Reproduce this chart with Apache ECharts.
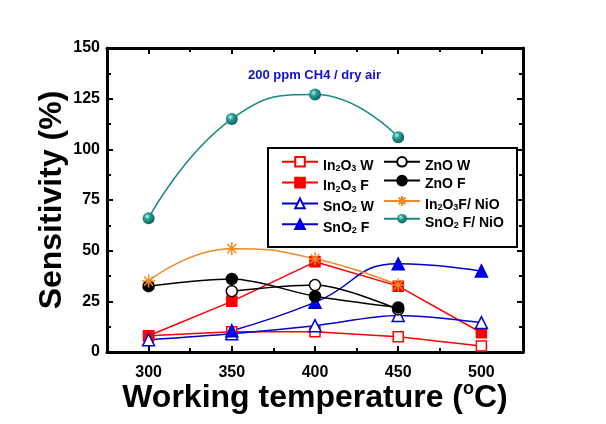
<!DOCTYPE html>
<html><head><meta charset="utf-8">
<script src="https://cdn.jsdelivr.net/npm/echarts@6/dist/echarts.min.js"></script>
<style>html,body{margin:0;padding:0;background:#fff}#c{width:606px;height:424px}</style>
</head><body><div id="c"></div>
<script>
const temps = [300, 350, 400, 450, 500];
const xTicks = [300, 350, 400, 450, 500];
const xMinor = [325, 375, 425, 475];
const in2o3W = [8, 10, 10, 7.5, 3];
const in2o3F = [8, 25, 44.5, 32.5, 9.5];
const sno2W = [6, 9, 13, 18, 14.5];
const sno2F = [null, 10.5, 24.5, 43.5, 40];
const znoW = [null, 30, 33, 21, null];
const znoF = [32.5, 36, 27.5, 22, null];
const in2o3FNiO = [35, 51, 46, 33, null];
const sno2FNiO = [66, 115, 127, 106, null];

const pair = a => temps.map((t, i) => [t, a[i]]);
const FONT = 'Arial, "Liberation Sans", sans-serif';
const chart = echarts.init(document.getElementById('c'));

const starPath = 'path://M0,5L10,5M5,0L5,10M1.5,1.5L8.5,8.5M8.5,1.5L1.5,8.5';
const sphere = {type: 'radial', x: 0.38, y: 0.35, r: 0.7, colorStops: [
  {offset: 0, color: '#c8efe9'}, {offset: 0.35, color: '#2a9f95'}, {offset: 1, color: '#0b5c57'}]};

function mk(name, data, color, symbol, fill, size, smooth) {
  return {
    name, type: 'line', data: pair(data), smooth, symbol, symbolSize: size,
    connectNulls: false,
    lineStyle: {color, width: 1.5},
    itemStyle: {color: fill, borderColor: color, borderWidth: 1.5},
    emphasis: {disabled: true}
  };
}
const series = [
  mk('In2O3 W', in2o3W, '#ff0000', 'rect', '#ffffff', 10, 0),
  mk('In2O3 F', in2o3F, '#ff0000', 'rect', '#ff0000', 10, 0),
  mk('SnO2 W', sno2W, '#0000cc', 'triangle', '#ffffff', 12, 0.3),
  mk('SnO2 F', sno2F, '#0000cc', 'triangle', '#0000ff', 12, 0.5),
  mk('ZnO W', znoW, '#000000', 'circle', '#ffffff', 11, 0.3),
  mk('ZnO F', znoF, '#000000', 'circle', '#000000', 11, 0.3),
  mk('In2O3F/ NiO', in2o3FNiO, '#f08a24', starPath, 'none', 13, 0.5),
  mk('SnO2 F/ NiO', sno2FNiO, '#168a82', 'circle', sphere, 12, 0.5)
];
series[7].itemStyle.borderWidth = 0;

const legendFmt = {
  'In2O3 W': '{n|In}{s|2}{n|O}{s|3}{n| W}',
  'In2O3 F': '{n|In}{s|2}{n|O}{s|3}{n| F}',
  'SnO2 W': '{n|SnO}{s|2}{n| W}',
  'SnO2 F': '{n|SnO}{s|2}{n| F}',
  'ZnO W': '{n|ZnO W}',
  'ZnO F': '{n|ZnO F}',
  'In2O3F/ NiO': '{n|In}{s|2}{n|O}{s|3}{n|F/ NiO}',
  'SnO2 F/ NiO': '{n|SnO}{s|2}{n| F/ NiO}'
};
const legendText = {
  fontFamily: FONT,
  rich: {
    n: {fontSize: 14, fontWeight: 'bold', fontFamily: FONT, color: '#000', verticalAlign: 'bottom', lineHeight: 22},
    s: {fontSize: 9, fontWeight: 'bold', fontFamily: FONT, color: '#000', verticalAlign: 'bottom', lineHeight: 8}
  }
};
function leg(left, names, gap) {
  return {
    show: true, orient: 'vertical', left, top: 151, itemGap: gap, itemWidth: 36, itemHeight: 12,
    data: names, formatter: n => legendFmt[n], textStyle: legendText, selectedMode: false, z: 10
  };
}

const axisLine = {lineStyle: {color: '#000', width: 3}};
const xBase = {type: 'value', min: 275, max: 525, splitLine: {show: false}};
chart.setOption({
  animation: false,
  backgroundColor: '#fff',
  grid: {left: 107, right: 83, top: 48, bottom: 72},
  title: {text: '200 ppm CH4 / dry air', left: 243, top: 64,
    textStyle: {fontSize: 13, fontWeight: 'bold', color: '#1010d0', fontFamily: FONT}},
  legend: [
    leg(276, ['In2O3 W', 'In2O3 F', 'SnO2 W', 'SnO2 F'], 4),
    leg(378, ['ZnO W', 'ZnO F', 'In2O3F/ NiO', 'SnO2 F/ NiO'], 2)
  ],
  graphic: [{type: 'rect', shape: {x: 268, y: 148, width: 249, height: 99},
    style: {fill: '#fff', stroke: '#000', lineWidth: 2}, z: 5}],
  xAxis: [
    Object.assign({}, xBase, {
      position: 'bottom', axisLine,
      axisTick: {inside: true, length: 6, lineStyle: {width: 2, color: '#000'}, customValues: xTicks},
      axisLabel: {customValues: xTicks, fontSize: 16, fontWeight: 'bold', color: '#000', fontFamily: FONT, margin: 13},
      name: 'Working temperature ({sup|o}C)', nameLocation: 'middle', nameGap: 28, nameMoveOverlap: false,
      nameTextStyle: {fontSize: 32, fontWeight: 'bold', color: '#000', fontFamily: FONT,
        rich: {sup: {fontSize: 18, fontWeight: 'bold', color: '#000', fontFamily: FONT, verticalAlign: 'top', lineHeight: 36, padding: [0, 0, 16, 0]}}}
    }),
    Object.assign({}, xBase, {
      position: 'bottom', axisLine: {show: false},
      axisTick: {inside: true, length: 4, lineStyle: {width: 2, color: '#000'}, customValues: xMinor},
      axisLabel: {show: false}
    }),
    Object.assign({}, xBase, {
      position: 'top', axisLine,
      axisTick: {inside: true, length: 6, lineStyle: {width: 2, color: '#000'}, customValues: xTicks},
      axisLabel: {show: false}
    }),
    Object.assign({}, xBase, {
      position: 'top', axisLine: {show: false},
      axisTick: {inside: true, length: 4, lineStyle: {width: 2, color: '#000'}, customValues: xMinor},
      axisLabel: {show: false}
    })
  ],
  yAxis: [
    {type: 'value', min: 0, max: 150, interval: 25, position: 'left', splitLine: {show: false}, axisLine,
      axisTick: {inside: true, length: 6, lineStyle: {width: 2, color: '#000'}},
      minorTick: {show: true, splitNumber: 2, length: 4, lineStyle: {width: 2, color: '#000'}},
      axisLabel: {fontSize: 16, fontWeight: 'bold', color: '#000', fontFamily: FONT, margin: 7},
      name: 'Sensitivity (%)', nameLocation: 'middle', nameGap: 39, nameMoveOverlap: false,
      nameTextStyle: {fontSize: 32, fontWeight: 'bold', color: '#000', fontFamily: FONT}},
    {type: 'value', min: 0, max: 150, interval: 25, position: 'right', splitLine: {show: false}, axisLine,
      axisTick: {inside: true, length: 6, lineStyle: {width: 2, color: '#000'}},
      minorTick: {show: true, splitNumber: 2, length: 4, lineStyle: {width: 2, color: '#000'}},
      axisLabel: {show: false}}
  ],
  series
});
</script></body></html>
